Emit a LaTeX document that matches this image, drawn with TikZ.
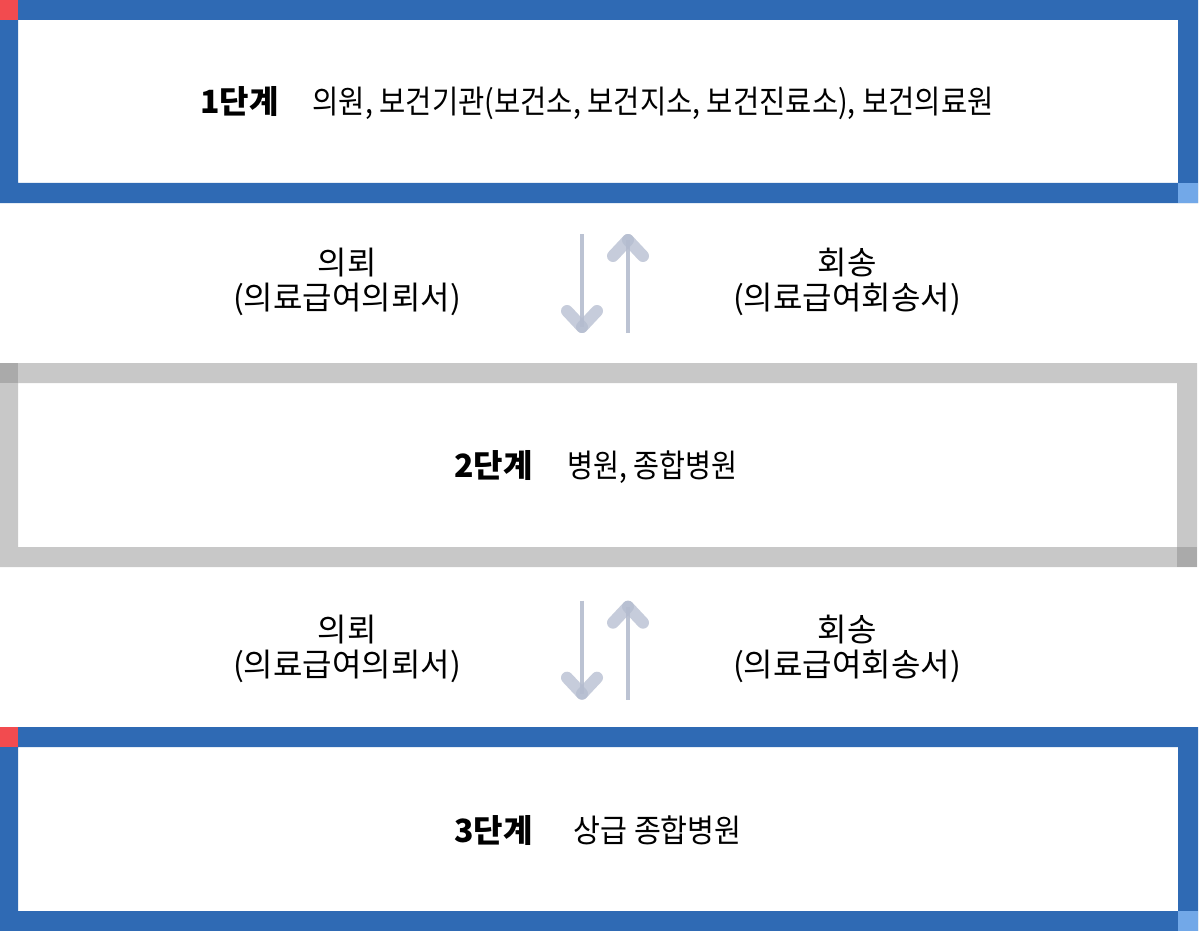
\documentclass[tikz,border=0pt]{standalone}
\usepackage{fontspec}
\usepackage{graphicx}
\setmainfont{Noto Sans CJK KR}
\definecolor{frameblue}{HTML}{2F6AB4}
\definecolor{cornerred}{HTML}{F24B4F}
\definecolor{cornerlight}{HTML}{72A8E8}
\definecolor{framegray}{HTML}{C8C8C8}
\definecolor{cornergray}{HTML}{AAAAAA}
\definecolor{arrline}{HTML}{BCC3D3}
\definecolor{arrhead}{HTML}{B4BCCF}
\tikzset{
  stagetext/.style={inner sep=0pt, font=\fontsize{32}{36}\selectfont, text=black},
  labeltext/.style={inner sep=0pt, align=center, font=\fontsize{32}{35}\selectfont, text=black},
  shaft/.style={draw=arrline, line width=4pt},
  chevron/.style={draw=arrhead, line width=12pt, line cap=round, opacity=0.75},
}
\newcommand{\stageframe}[6]{%
  \fill[#4, even odd rule] (0,#1) rectangle (#3+20,#2) (18,#1+20) rectangle (#3,#2-20);
  \fill[#5] (0,#1) rectangle (18,#1+20);
  \fill[#6] (#3,#2-20) rectangle (#3+20,#2);
}
\newcommand{\arrowpair}[2]{%
  \coordinate (#2dtop) at (582,234+#1);
  \coordinate (#2dtip) at (582,327+#1);
  \coordinate (#2dl) at (567,311+#1);
  \coordinate (#2dr) at (597,311+#1);
  \coordinate (#2ubot) at (628,333+#1);
  \coordinate (#2utip) at (628,240+#1);
  \coordinate (#2ul) at (613,256+#1);
  \coordinate (#2ur) at (643,256+#1);
  \draw[shaft] (#2dtop) -- (#2dtip);
  \draw[shaft] (#2ubot) -- (#2utip);
  \draw[chevron] (#2dl) -- (#2dtip);
  \draw[chevron] (#2dr) -- (#2dtip);
  \draw[chevron] (#2ul) -- (#2utip);
  \draw[chevron] (#2ur) -- (#2utip);
}
\newcommand{\squeeze}[2]{\resizebox{#1pt}{\height}{#2}}
\begin{document}
\begin{tikzpicture}[x=1pt,y=-1pt]
\useasboundingbox (0,0) rectangle (1200,931);
\fill[white] (0,0) rectangle (1200,931);
\stageframe{0}{203}{1178}{frameblue}{cornerred}{cornerlight}
\stageframe{363}{567}{1177}{framegray}{cornergray}{cornergray}
\stageframe{727}{931}{1178}{frameblue}{cornerred}{cornerlight}
\node[stagetext] (s1) at (597,103) {\textbf{1단계}\hspace{34pt}\squeeze{681}{의원, 보건기관(보건소, 보건지소, 보건진료소), 보건의료원}};
\node[stagetext] (s2) at (596,467) {\textbf{2단계}\hspace{35pt}\squeeze{170}{병원, 종합병원}};
\node[stagetext] (s3) at (598,830) {\textbf{3단계}\hspace{41pt}\squeeze{168}{상급 종합병원}};
\arrowpair{0}{a}
\arrowpair{366.7}{b}
\node[labeltext] (r1) at (347,282) {의뢰\\(의료급여의뢰서)};
\node[labeltext] (h1) at (847,282) {회송\\(의료급여회송서)};
\node[labeltext] (r2) at (347,648.7) {의뢰\\(의료급여의뢰서)};
\node[labeltext] (h2) at (847,648.7) {회송\\(의료급여회송서)};
\end{tikzpicture}
\end{document}
